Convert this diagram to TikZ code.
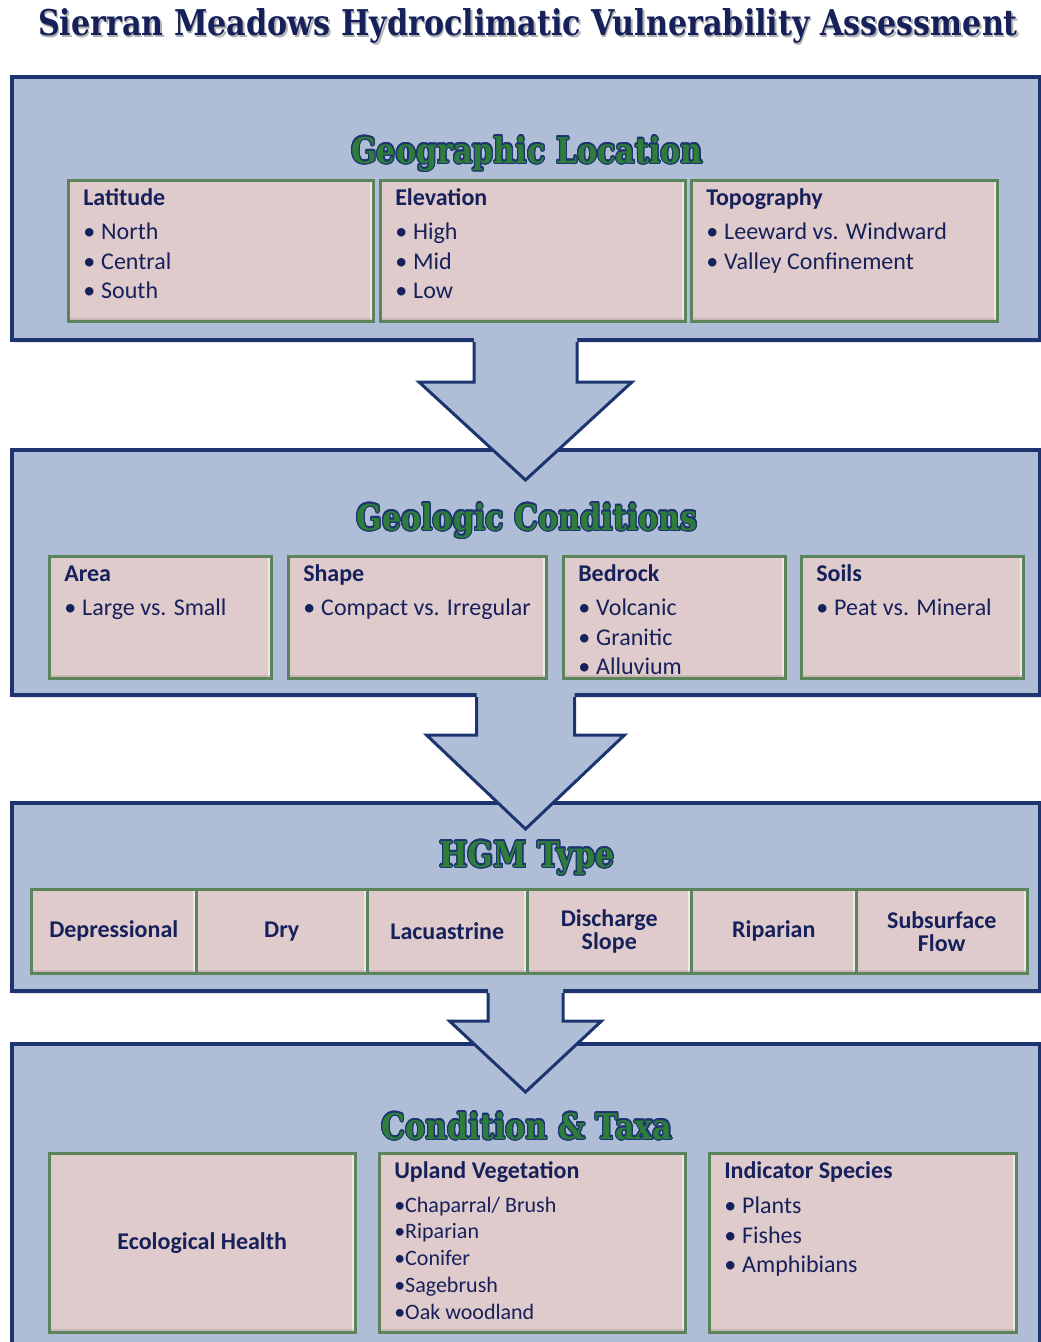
\documentclass[tikz,border=0pt]{standalone}
\usepackage{fontspec}
\setmainfont{Carlito}
\newfontfamily\headfont{DejaVu Serif}[FakeStretch=0.85]
\usepackage{contour}
\contourlength{1.1pt}
\usetikzlibrary{calc, shadows}

\definecolor{panelblue}{HTML}{AFBED6}
\definecolor{panelnavy}{HTML}{1C3470}
\definecolor{boxpink}{HTML}{E0CBCC}
\definecolor{boxgreen}{HTML}{5B845B}
\definecolor{textnavy}{HTML}{16205A}
\definecolor{headgreen}{HTML}{2F7D3B}

\newcommand{\cell}[3]{\parbox[c][#2][t]{#1}{\raggedright\strut#3}}
\newcommand{\bul}{\makebox[18pt][l]{\textbullet}}

\tikzset{
    panel/.style={draw=panelnavy, fill=panelblue, line width=4pt, inner sep=0pt,
        drop shadow={opacity=0.22, shadow xshift=2pt, shadow yshift=-3pt}},
    arrowline/.style={draw=panelnavy, line width=3pt, line join=miter},
    bevel/.style={path picture={
        \draw[white, opacity=0.55, line width=6pt]
            (path picture bounding box.north east) -- (path picture bounding box.south east);
        \draw[black, opacity=0.10, line width=6pt]
            (path picture bounding box.south west) -- (path picture bounding box.south east);}},
    infobox/.style={draw=boxgreen, fill=boxpink, bevel, line width=2.5pt, anchor=north west,
        inner xsep=15pt, inner ysep=5pt, text=textnavy, font=\fontsize{24}{29.3}\selectfont},
    hgmbox/.style={draw=boxgreen, fill=boxpink, bevel, line width=2.5pt, anchor=north west,
        minimum height=84pt, inner sep=0pt, align=center, text=textnavy,
        font=\bfseries\fontsize{24}{23}\selectfont},
    heading/.style={anchor=base, text=headgreen, font=\headfont\bfseries\fontsize{35.5}{40}\selectfont},
    titletext/.style={anchor=base, font=\headfont\bfseries\fontsize{35.5}{40}\selectfont}
}

\begin{document}
\begin{tikzpicture}[x=1pt, y=-1pt]
    \fill[white] (0,0) rectangle (1041,1342);
    \useasboundingbox (0,0) rectangle (1041,1342);

    % title
    \node[titletext, text=black, opacity=0.3] (ttlshadow) at (529.5,37) {Sierran Meadows Hydroclimatic Vulnerability Assessment};
    \node[titletext, text=textnavy] (ttl) at (528,35) {Sierran Meadows Hydroclimatic Vulnerability Assessment};

    % geographic location
    \node[panel, minimum width=1028pt, minimum height=263pt] (pgeo) at (525.5,208.5) {};
    \node[heading] (hgeo) at (527,163) {\contour{panelnavy}{Geographic Location}};
    \node[infobox] (lat) at (67,179) {\cell{275pt}{131pt}{\textbf{Latitude}\\[4.7pt] \bul North\\ \bul Central\\ \bul South}};
    \node[infobox] (elev) at (379,179) {\cell{275pt}{131pt}{\textbf{Elevation}\\[4.7pt] \bul High\\ \bul Mid\\ \bul Low}};
    \node[infobox] (topo) at (690,179) {\cell{276pt}{131pt}{\textbf{Topography}\\[4.7pt] \bul Leeward vs. Windward\\ \bul Valley Confinement}};

    % geologic conditions
    \node[panel, minimum width=1028pt, minimum height=245pt] (pgeol) at (525.5,572.5) {};
    \fill[panelblue] ($(pgeo.south)+(-51.5,-4)$) -- ++(0,44) -- ++(-55,0) -- ++(106.5,98)
        -- ++(106.5,-98) -- ++(-55,0) -- ++(0,-44) -- cycle;
    \draw[arrowline] ($(pgeo.south)+(-51.5,0)$) -- ++(0,40) -- ++(-55,0) -- ++(106.5,98)
        -- ++(106.5,-98) -- ++(-55,0) -- ++(0,-40);
    \node[heading] (hgeol) at (527,530) {\contour{panelnavy}{Geologic Conditions}};
    \node[infobox] (area) at (48,555) {\cell{192pt}{112pt}{\textbf{Area}\\[4.7pt] \bul Large vs. Small}};
    \node[infobox] (shape) at (287,555) {\cell{228pt}{112pt}{\textbf{Shape}\\[4.7pt] \bul Compact vs. Irregular}};
    \node[infobox] (bedrock) at (562,555) {\cell{192pt}{112pt}{\textbf{Bedrock}\\[4.7pt] \bul Volcanic\\ \bul Granitic\\ \bul Alluvium}};
    \node[infobox] (soils) at (800,555) {\cell{192pt}{112pt}{\textbf{Soils}\\[4.7pt] \bul Peat vs. Mineral}};

    % hgm type
    \node[panel, minimum width=1028pt, minimum height=188pt] (phgm) at (525.5,897) {};
    \fill[panelblue] ($(pgeol.south)+(-49,-4)$) -- ++(0,42) -- ++(-50,0) -- ++(99,94)
        -- ++(99,-94) -- ++(-50,0) -- ++(0,-42) -- cycle;
    \draw[arrowline] ($(pgeol.south)+(-49,0)$) -- ++(0,38) -- ++(-50,0) -- ++(99,94)
        -- ++(99,-94) -- ++(-50,0) -- ++(0,-38);
    \node[heading] (hhgm) at (527,867) {\contour{panelnavy}{HGM Type}};
    \node[hgmbox, minimum width=165pt] (depr) at (30,888) {Depressional};
    \node[hgmbox, minimum width=171pt] (dry) at (195,888) {Dry};
    \node[hgmbox, minimum width=160pt] (lacu) at (366,888) {Lacuastrine};
    \node[hgmbox, minimum width=164pt] (disch) at (526,888) {Discharge\\Slope};
    \node[hgmbox, minimum width=165pt] (ripa) at (690,888) {Riparian};
    \node[hgmbox, minimum width=171pt] (subs) at (855,888) {Subsurface\\Flow};

    % condition and taxa
    \node[panel, minimum width=1028pt, minimum height=356pt] (ptaxa) at (525.5,1222) {};
    \fill[panelblue] ($(phgm.south)+(-37.5,-4)$) -- ++(0,32) -- ++(-38.5,0) -- ++(76,71)
        -- ++(76,-71) -- ++(-38.5,0) -- ++(0,-32) -- cycle;
    \draw[arrowline] ($(phgm.south)+(-37.5,0)$) -- ++(0,28) -- ++(-38.5,0) -- ++(76,71)
        -- ++(76,-71) -- ++(-38.5,0) -- ++(0,-28);
    \node[heading] (htaxa) at (527,1139) {\contour{panelnavy}{Condition \& Taxa}};
    \node[infobox, minimum width=306pt, minimum height=179pt, font=\bfseries\fontsize{24}{29.3}\selectfont] (eco) at (48,1152) {Ecological Health};
    \node[infobox] (upland) at (378,1152) {\cell{276pt}{169pt}{\textbf{Upland Vegetation}\fontsize{22}{26.8}\selectfont\\[6.5pt]
        •Chaparral/ Brush\\ •Riparian\\ •Conifer\\ •Sagebrush\\ •Oak woodland}};
    \node[infobox] (indic) at (708,1152) {\cell{277pt}{169pt}{\textbf{Indicator Species}\\[5.7pt] \bul Plants\\ \bul Fishes\\ \bul Amphibians}};
\end{tikzpicture}
\end{document}
